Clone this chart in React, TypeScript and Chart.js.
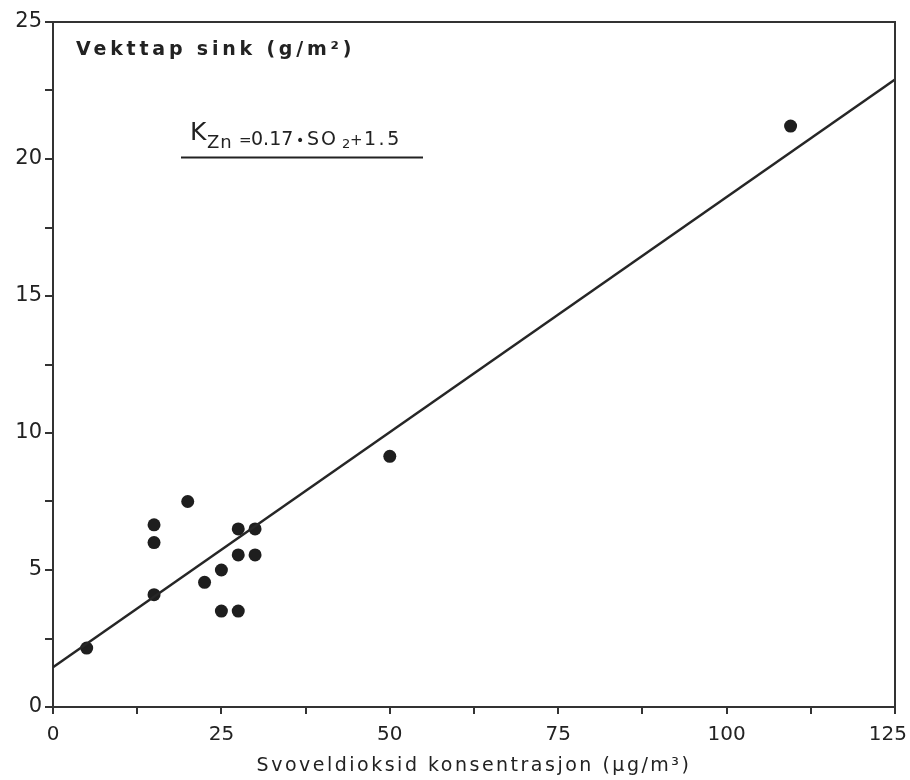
import React, { useEffect, useRef } from "react";
import { Chart, registerables } from "chart.js";

Chart.register(...registerables);

const so2Values = [5, 15, 15, 15, 20, 22.5, 25, 25, 27.5, 27.5, 27.5, 30, 30, 50, 109.5];
const zincLoss = [2.15, 6.65, 6.0, 4.1, 7.5, 4.55, 5.0, 3.5, 3.5, 6.5, 5.55, 6.5, 5.55, 9.15, 21.2];
const fitX = [0, 125];
const fitY = [1.45, 22.9];
const xTickLabels = [0, 25, 50, 75, 100, 125];
const yTitle = "Vekttap sink (g/m²)";
const xTitle = "Svoveldioksid konsentrasjon (µg/m³)";

const ink = "#222";

function txt(ctx: CanvasRenderingContext2D, s: string, x: number, y: number, font: string, spacing: number) {
  (ctx as any).letterSpacing = spacing + "px";
  ctx.font = font;
  ctx.fillText(s, x, y);
}

const overlay = {
  id: "overlay",
  afterDraw(chart: any) {
    const ctx = chart.ctx as CanvasRenderingContext2D;
    const a = chart.chartArea;
    ctx.save();
    // top and right frame
    ctx.strokeStyle = "#333";
    ctx.lineWidth = 2;
    ctx.beginPath();
    ctx.moveTo(a.left, a.top);
    ctx.lineTo(a.right, a.top);
    ctx.lineTo(a.right, a.bottom);
    ctx.stroke();

    ctx.fillStyle = ink;
    // x tick labels
    const xs = chart.scales.x;
    ctx.font = "20px 'DejaVu Sans'";
    ctx.textBaseline = "alphabetic";
    xTickLabels.forEach((v) => {
      const px = xs.getPixelForValue(v);
      const s = String(v);
      const w = ctx.measureText(s).width;
      let left = px - w / 2;
      if (left + w > 907) left = 907 - w;
      ctx.textAlign = "left";
      ctx.fillText(s, left, 740);
    });

    // x axis title
    ctx.textAlign = "center";
    txt(ctx, xTitle, 474, 771, "19px 'DejaVu Sans'", 2.5);

    // y title
    ctx.textAlign = "left";
    txt(ctx, yTitle, 76, 55, "bold 19px 'DejaVu Sans'", 3.8);

    // equation
    txt(ctx, "K", 190, 140, "25px 'DejaVu Sans'", 0);
    txt(ctx, "Zn", 207, 148, "18px 'DejaVu Sans'", 1);
    txt(ctx, "=", 239, 145, "15px 'DejaVu Sans'", 0);
    txt(ctx, "0.17", 251, 145, "19px 'DejaVu Sans'", 0);
    txt(ctx, "•", 296, 145, "14px 'DejaVu Sans'", 0);
    txt(ctx, "SO", 307, 145, "19px 'DejaVu Sans'", 2);
    txt(ctx, "2", 342, 148, "13px 'DejaVu Sans'", 0);
    txt(ctx, "+", 350, 145, "15px 'DejaVu Sans'", 0);
    txt(ctx, "1.5", 364, 145, "19px 'DejaVu Sans'", 2.5);
    (ctx as any).letterSpacing = "0px";
    ctx.strokeStyle = ink;
    ctx.lineWidth = 2;
    ctx.beginPath();
    ctx.moveTo(181, 157.5);
    ctx.lineTo(423, 157.5);
    ctx.stroke();
    ctx.restore();
  },
};

export default function App() {
  const ref = useRef<HTMLCanvasElement | null>(null);
  useEffect(() => {
    if (!ref.current) return;
    const chart = new Chart(ref.current, {
      type: "scatter",
      data: {
        datasets: [
          {
            type: "line",
            data: fitX.map((x, i) => ({ x, y: fitY[i] })),
            borderColor: "#262626",
            borderWidth: 2.5,
            pointRadius: 0,
            fill: false,
          } as any,
          {
            data: so2Values.map((x, i) => ({ x, y: zincLoss[i] })),
            pointRadius: 6.5,
            backgroundColor: "#1e1e1e",
            borderWidth: 0,
          },
        ],
      },
      options: {
        animation: false,
        responsive: false,
        layout: { padding: { top: 22, right: 15, left: 0, bottom: 0 } },
        plugins: { legend: { display: false }, tooltip: { enabled: false } },
        scales: {
          x: {
            type: "linear",
            min: 0,
            max: 125,
            afterFit: (s: any) => {
              s.height = 73;
            },
            ticks: { stepSize: 12.5, callback: () => "" },
            grid: {
              drawOnChartArea: false,
              drawTicks: true,
              tickLength: 7,
              color: "#333",
              lineWidth: 2,
            },
            border: { display: true, color: "#333", width: 2 },
          },
          y: {
            type: "linear",
            min: 0,
            max: 25,
            afterFit: (s: any) => {
              s.width = 53;
            },
            ticks: {
              stepSize: 2.5,
              color: ink,
              padding: 3,
              font: { family: "'DejaVu Sans'", size: 21 },
              callback: (v: any) => (Number(v) % 5 === 0 ? String(v) : ""),
            },
            grid: {
              drawOnChartArea: false,
              drawTicks: true,
              tickLength: 8,
              color: "#333",
              lineWidth: 2,
            },
            border: { display: true, color: "#333", width: 2 },
          },
        },
      },
      plugins: [overlay],
    });
    return () => chart.destroy();
  }, []);
  return (
    <div style={{ position: "fixed", left: 0, top: 0, width: 910, height: 780, background: "#fff" }}>
      <canvas ref={ref} width={910} height={780} />
    </div>
  );
}
